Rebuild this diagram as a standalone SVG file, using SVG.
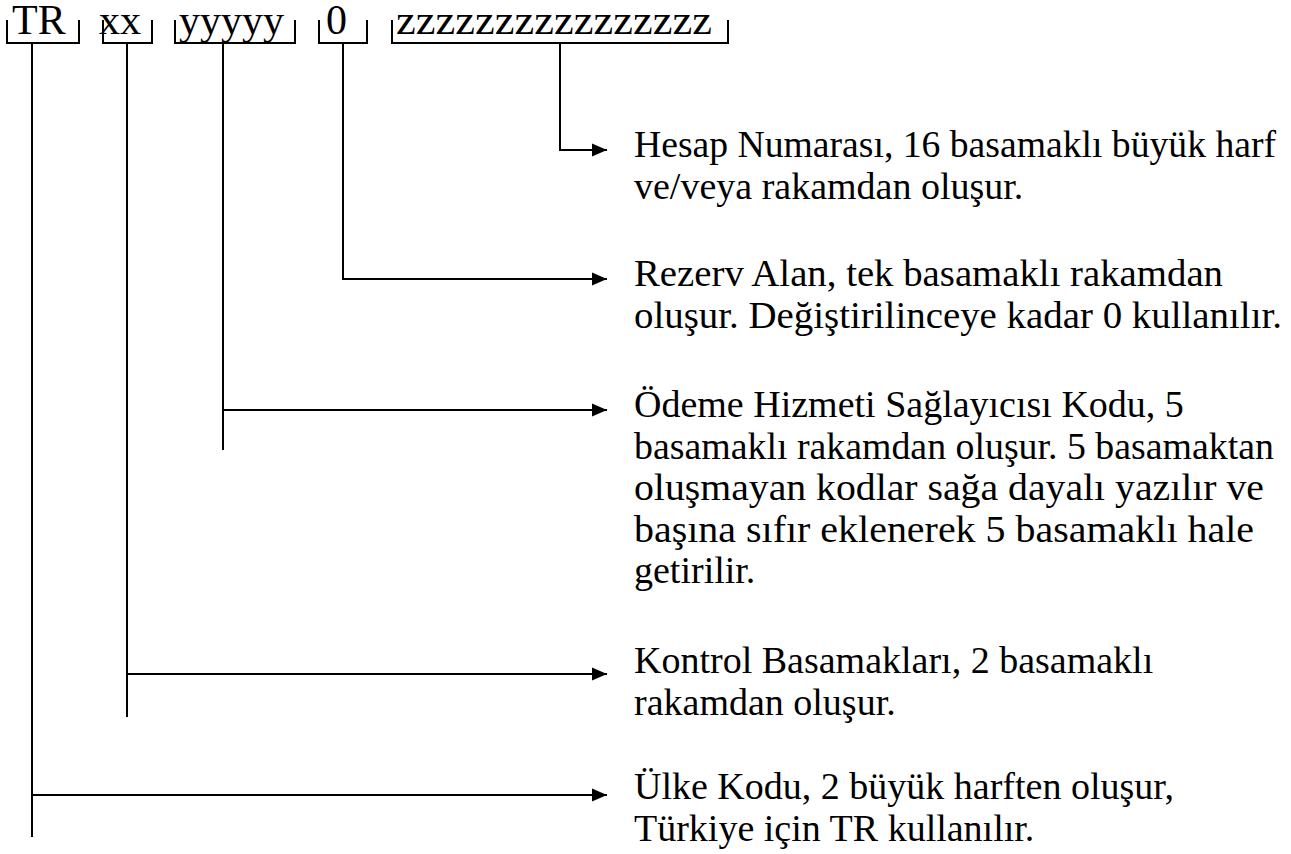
<svg xmlns="http://www.w3.org/2000/svg" width="1291" height="854" viewBox="0 0 1291 854">
<style>
.code{font-family:"Liberation Serif","Times New Roman",serif;font-size:42px;fill:#000}
.desc{font-family:"Liberation Serif","Times New Roman",serif;font-size:38px;fill:#000}
.br{fill:none;stroke:#000;stroke-width:2}
.ln{fill:none;stroke:#000;stroke-width:2}
</style>
<defs>
<marker id="ah" markerUnits="userSpaceOnUse" markerWidth="16" markerHeight="14" refX="15" refY="7" orient="auto">
<path d="M0,0.5 L15,7 L0,13.5 z" fill="#000"/>
</marker>
</defs>
<rect width="1291" height="854" fill="#fff"/>
<g id="seg-tr">
<text class="code" x="12" y="34">TR</text>
<path class="br" d="M7,20 V43 H79 V20"/>
</g>
<g id="seg-xx">
<text class="code" x="99" y="34">xx</text>
<path class="br" d="M103,20 V43 H152 V20"/>
</g>
<g id="seg-y">
<text class="code" x="179" y="34">yyyyy</text>
<path class="br" d="M175,20 V43 H295 V20"/>
</g>
<g id="seg-0">
<text class="code" x="326" y="34">0</text>
<path class="br" d="M319,20 V43 H367 V20"/>
</g>
<g id="seg-z">
<text class="code" x="396" y="34" textLength="316" lengthAdjust="spacingAndGlyphs">zzzzzzzzzzzzzzzz</text>
<path class="br" d="M392,20 V43 H728 V20"/>
</g>
<g id="connectors">
<path class="ln" d="M32,43 V837"/>
<path class="ln" d="M32,795 H607" marker-end="url(#ah)"/>
<path class="ln" d="M127,43 V717"/>
<path class="ln" d="M127,674 H607" marker-end="url(#ah)"/>
<path class="ln" d="M223,43 V450"/>
<path class="ln" d="M223,410 H607" marker-end="url(#ah)"/>
<path class="ln" d="M343,43 V279 H607" marker-end="url(#ah)"/>
<path class="ln" d="M560,43 V150 H607" marker-end="url(#ah)"/>
</g>
<g id="desc-hesap">
<text class="desc" x="634" y="157" textLength="642" lengthAdjust="spacingAndGlyphs">Hesap Numarası, 16 basamaklı büyük harf</text>
<text class="desc" x="634" y="198.5">ve/veya rakamdan oluşur.</text>
</g>
<g id="desc-rezerv">
<text class="desc" x="634" y="286" textLength="589" lengthAdjust="spacingAndGlyphs">Rezerv Alan, tek basamaklı rakamdan</text>
<text class="desc" x="634" y="327.5" textLength="648" lengthAdjust="spacingAndGlyphs">oluşur. Değiştirilinceye kadar 0 kullanılır.</text>
</g>
<g id="desc-odeme">
<text class="desc" x="634" y="417">Ödeme Hizmeti Sağlayıcısı Kodu, 5</text>
<text class="desc" x="634" y="458.5" textLength="640" lengthAdjust="spacingAndGlyphs">basamaklı rakamdan oluşur. 5 basamaktan</text>
<text class="desc" x="634" y="500" textLength="630" lengthAdjust="spacingAndGlyphs">oluşmayan kodlar sağa dayalı yazılır ve</text>
<text class="desc" x="634" y="541.5" textLength="620" lengthAdjust="spacingAndGlyphs">başına sıfır eklenerek 5 basamaklı hale</text>
<text class="desc" x="634" y="583">getirilir.</text>
</g>
<g id="desc-kontrol">
<text class="desc" x="634" y="673">Kontrol Basamakları, 2 basamaklı</text>
<text class="desc" x="634" y="714.5">rakamdan oluşur.</text>
</g>
<g id="desc-ulke">
<text class="desc" x="634" y="799">Ülke Kodu, 2 büyük harften oluşur,</text>
<text class="desc" x="634" y="840.5">Türkiye için TR kullanılır.</text>
</g>
</svg>
